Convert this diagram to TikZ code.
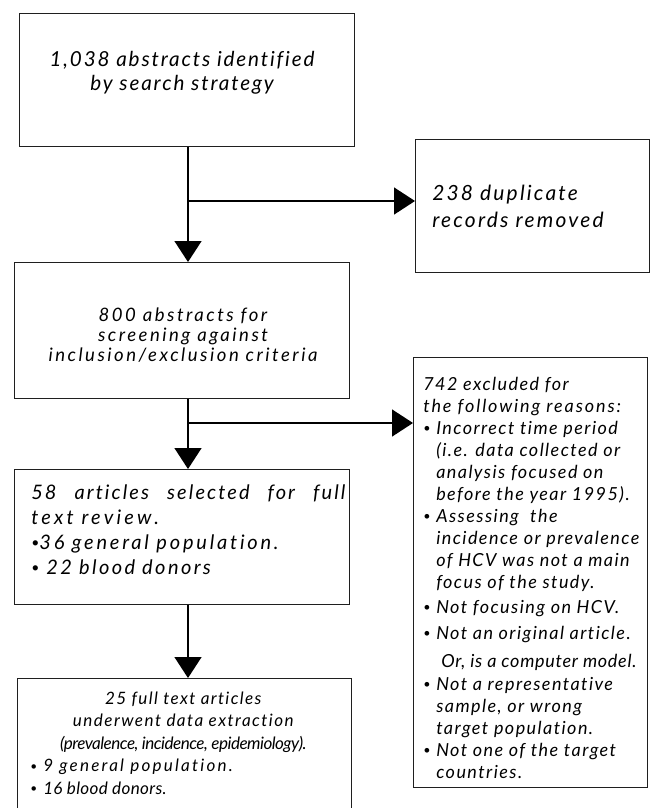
\documentclass[tikz,border=0pt]{standalone}
\usepackage{fontspec}
\usepackage{graphicx}
\setmainfont{Lato}[Ligatures=CommonOff]
\usetikzlibrary{arrows.meta}
\newcommand\ls[1]{\addfontfeature{LetterSpace=#1}}
\newcommand\dotb{\raisebox{0.1em}{\scalebox{0.7}{\textbullet}}}
\newcommand\bl{\makebox[9.75pt][l]{\dotb}}
\newcommand\ii{\hspace*{9.75pt}}
\begin{document}
\begin{tikzpicture}[x=0.75pt,y=-0.75pt,
  frame/.style={draw=black!88,line width=1.1pt,inner sep=0pt,anchor=north west,rectangle},
  conn/.style={draw=black,line width=1.1pt},
  tip/.style={-{Triangle[length=15.75pt,width=20.25pt]}},
  txt/.style={inner sep=0pt,text=black}
]
\useasboundingbox (0,0) rectangle (651,808);

% boxes
\node[frame,minimum width=251.25pt,minimum height=99.75pt] (b1) at (19,13) {};
\node[frame,minimum width=175.5pt,minimum height=99.75pt] (dup) at (415,139) {};
\node[frame,minimum width=251.25pt,minimum height=102pt] (b2) at (14,262) {};
\node[frame,minimum width=175.5pt,minimum height=322.5pt] (b3) at (413,357) {};
\node[frame,minimum width=251.25pt,minimum height=101.25pt] (b4) at (14,469) {};
\node[frame,minimum width=250.5pt,minimum height=110pt] (b5) at (17,678) {};

% texts
\node[txt,anchor=north,align=center,font=\fontsize{15.5}{18}\selectfont\itshape\ls{9}] (t1) at (182,51.5)
  {1,038 abstracts identified\\by search strategy};
\node[txt,anchor=north west,align=left,font=\fontsize{15.7}{20.25}\selectfont\itshape\ls{10.5}] (tdup) at (432,185)
  {238 duplicate\\records removed};
\node[txt,anchor=north,align=center,font=\fontsize{13.9}{15}\selectfont\itshape\ls{13.5}] (t2) at (183,308)
  {800 abstracts for\\screening against\\inclusion/exclusion criteria};
\node[txt,anchor=north west,align=left,font=\fontsize{13.5}{16.5}\selectfont\itshape\ls{8}] (t3) at (423,377)
  {742 excluded for\\
   {\ls{10.5}the following reasons:}\\
   \bl Incorrect time period\\
   \ii (i.e. data collected or\\
   \ii analysis focused on\\
   \ii before the year 1995).\\
   \bl Assessing\ \ the\\
   \ii incidence or prevalence\\
   \ii of HCV was not a main\\
   \ii focus of the study.\\[2.25pt]
   \bl Not focusing on HCV.\\[3pt]
   \bl Not an original article.\\[4.5pt]
   \hspace*{13.5pt}{\ls{4}Or, is a computer model.}\\[0.75pt]
   \bl Not a representative\\
   \ii sample, or wrong\\
   \ii target population.\\
   \bl Not one of the target\\
   \ii countries.};
\node[txt,anchor=north west,align=left,font=\fontsize{15}{18.75}\selectfont\itshape\ls{10.5}] (t4) at (31,484.4)
  {\makebox[235.5pt][s]{58 articles selected for full}\\
   {\ls{16}text review.}\\
   {\ls{14}\dotb 36 general population.}\\
   {\ls{12}\dotb\ 22 blood donors}};
\node[txt,anchor=north west,align=left,font=\fontsize{12.8}{16.9}\selectfont\itshape] (t5) at (30,691.5)
  {\makebox[229.5pt][c]{\ls{8}25 full text articles}\\
   \makebox[229.5pt][c]{\ls{8.5}underwent data extraction}\\
   \makebox[229.5pt][c]{\ls{-3}(prevalence, incidence, epidemiology).}\\
   {\ls{13}\bl 9 general population.}\\
   {\ls{2}\bl 16 blood donors.}};

% connectors
\coordinate (j1) at (188,201);
\coordinate (j2) at (188,423);
\draw[conn,tip] (b1.south -| j1) -- (b2.north -| j1);
\draw[conn,tip] (j1) -- (j1 -| dup.west);
\draw[conn,tip] (b2.south -| j2) -- (b4.north -| j2);
\draw[conn,tip] (j2) -- (j2 -| b3.west);
\draw[conn,tip] (b4.south -| j2) -- (b5.north -| j2);
\end{tikzpicture}
\end{document}
